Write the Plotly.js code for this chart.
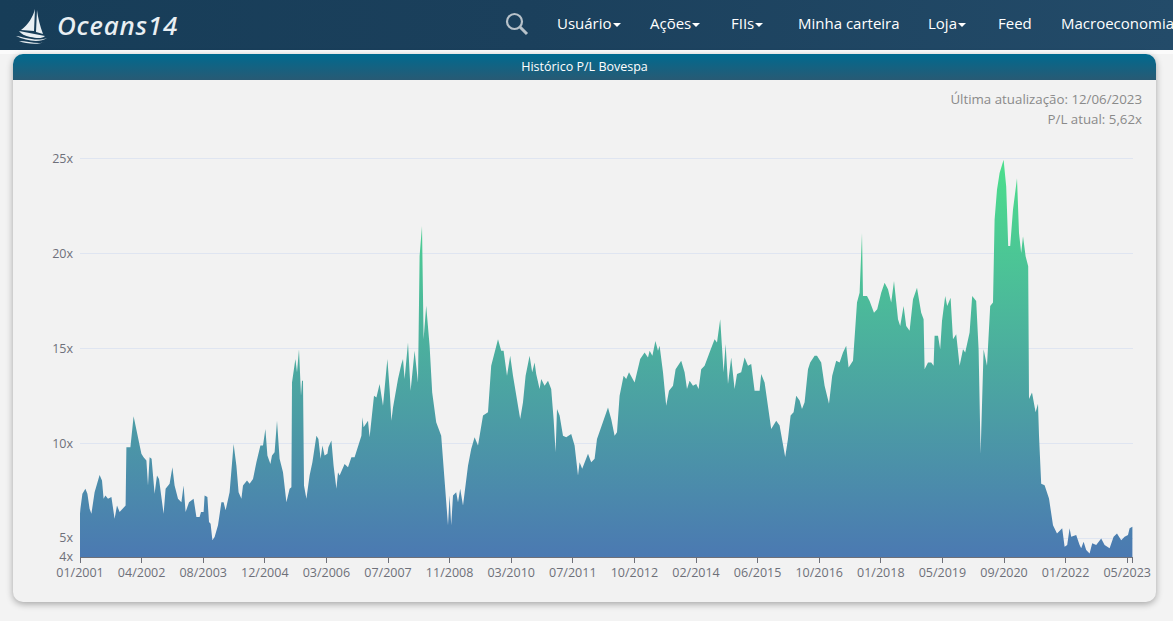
<!DOCTYPE html>
<html lang="pt-BR">
<head>
<meta charset="utf-8">
<title>Histórico P/L Bovespa</title>
<script src="https://cdn.plot.ly/plotly-3.0.1.min.js"></script>
<style>
html,body{margin:0;padding:0;width:1173px;height:621px;overflow:hidden;background:#f3f3f3;font-family:"Open Sans",sans-serif}
#nav{position:absolute;left:0;top:0;width:1173px;height:50px;background:linear-gradient(90deg,#173d58,#1b405c 45%,#234b69)}
#strip{position:absolute;left:0;top:50px;width:1173px;height:4px;background:#fbfbfb}
.item{position:absolute;top:13px;color:#fff;font-size:15px;line-height:20px;white-space:nowrap}
.item i{display:inline-block;width:0;height:0;margin-left:1px;vertical-align:2px;border-left:4px solid transparent;border-right:4px solid transparent;border-top:4px solid #fff}
#brand{position:absolute;left:57px;top:6px;color:#e9eff3;font:italic 500 26px/38px "Noto Sans",sans-serif;letter-spacing:.8px}
#card{position:absolute;left:13px;top:54px;width:1143px;height:548px;background:#f2f2f2;border-radius:10px 10px 10px 10px;box-shadow:0 2px 7px rgba(0,0,0,.33)}
#cardhead{position:absolute;left:0;top:0;width:1143px;height:26px;border-radius:10px 10px 0 0;background:linear-gradient(180deg,#006a8f,#285a74);color:#fff;font-size:12.5px;line-height:25px;text-align:center}
#info{position:absolute;right:14px;top:35px;text-align:right;color:#8a8a8a;font-size:13.3px;line-height:20px}
#chart{position:absolute;left:0;top:0;width:1173px;height:621px}
</style>
</head>
<body>
<div id="nav">
  <svg style="position:absolute;left:14px;top:7px" width="34" height="38" viewBox="0 0 34 38">
    <path d="M21 2 C19 10 14 18 7 23 L20 24 Z" fill="#e9eff3"/>
    <path d="M23 3 C24 11 26 19 29 27 L22 25 Z" fill="#e9eff3"/>
    <path d="M5 24 L31 29 C28 32 22 31 16 30 C11 29 7 27 5 24 Z" fill="#e9eff3"/>
    <path d="M2 29 C10 30 22 35 33 31 C26 36 12 34 2 29 Z M5 34 C14 34 24 38 31 35 C24 38 12 37 5 34 Z" fill="#e9eff3"/>
  </svg>
  <div id="brand">Oceans14</div>
  <svg style="position:absolute;left:505px;top:12px" width="24" height="24" viewBox="0 0 24 24" fill="none" stroke="#b8c2ca">
    <circle cx="9.5" cy="9.5" r="7.5" stroke-width="2.2"/><path d="M15 15 L22 22" stroke-width="3"/>
  </svg>
  <div class="item" style="left:557px">Usuário<i></i></div>
  <div class="item" style="left:650px">Ações<i></i></div>
  <div class="item" style="left:731px">FIIs<i></i></div>
  <div class="item" style="left:798px">Minha carteira</div>
  <div class="item" style="left:928px">Loja<i></i></div>
  <div class="item" style="left:998px">Feed</div>
  <div class="item" style="left:1061px">Macroeconomia</div>
</div>
<div id="strip"></div>
<div id="card">
  <div id="cardhead">Histórico P/L Bovespa</div>
  <div id="info">Última atualização: 12/06/2023<br>P/L atual: 5,62x</div>
</div>
<div id="chart"></div>
<script>
// Position along the category axis, in trading sessions since 01/2001
const sessions = [
0,2,12,27,37,48,57,73,98,110,118,127,140,157,173,185,198,212,228,232,252,268,282,298,307,318,332,340,348,358,373,385,395,418,428,448,462,473,490,507,518,528,545,568,582,598,605,618,623,637,645,653,662,673,690,707,718,728,748,768,782,793,807,815,835,848,865,882,902,915,927,937,952,960,973,985,998,1015,1032,1048,1057,1060,1077,1085,1095,1105,1110,1115,1120,1132,1148,1162,1182,1192,1203,1212,1223,1237,1242,1257,1268,1282,1290,1298,1323,1340,1357,1373,1407,1412,1418,1440,1448,1470,1482,1498,1515,1532,1537,1548,1557,1565,1590,1607,
1615,1623,1640,1653,1673,1690,1698,1710,1718,1731,1748,1761,1781,1806,1823,1840,1848,1856,1865,1881,1890,1901,1915,1931,1940,1956,1973,1990,2015,2040,2056,2090,2106,2118,2135,2151,2165,2201,2215,2228,2248,2261,2273,2281,2298,2306,2323,2340,2356,2368,2378,2385,2398,2415,2431,2456,2473,2490,2498,2511,2540,2556,2573,2585,2615,2640,2656,2673,2685,2698,2718,2731,2745,2773,2801,2823,2840,2848,2862,2877,2890,2898,2915,2931,2945,2965,2978,3006,3023,3035,3048,3065,3081,3093,3106,3123,3151,3173,3185,3201,3218,3228,3240,3256,3273,3285,3306,3323,3340,3356,3373,3398,3406,3423,3456,3481,
3498,3511,3526,3540,3553,3568,3581,3598,3610,3623,3640,3651,3673,3685,3706,3723,3745,3761,3781,3798,3815,3831,3843,3865,3885,3898,3910,3915,3935,3948,3970,3986,4006,4023,4040,4056,4070,4090,4101,4118,4131,4148,4165,4185,4206,4218,4223,4240,4256,4268,4273,4290,4301,4310,4326,4336,4353,4365,4381,4398,4415,4426,4448,4461,4481,4493,4503,4518,4535,4551,4565,4573,4585,4598,4618,4631,4641,4651,4665,4685,4695,4706,4715,4728,4741,4745,4760,4778,4790,4795,4806,4823,4845,4865,4885,4911,4923,4936,4948,4956,4981,4998,5006,5018,5031,5048,5061,5081,5106,5123,5140,5148,5168,5185,5206,5223,5240,5248,5262
];
// P/L Bovespa at each of those positions
const peRatio = [
6.28,6.54,7.33,7.60,7.33,6.54,6.28,7.42,8.33,8.04,7.07,7.25,7.07,7.16,6.02,6.72,6.37,6.54,6.72,9.79,9.79,11.42,10.67,9.88,9.44,9.26,9.09,7.77,9.26,9.18,7.33,8.30,8.12,6.28,7.60,7.86,8.74,7.77,7.07,6.89,7.77,6.37,6.89,7.07,6.11,6.11,6.37,6.37,7.25,7.16,5.84,5.75,4.88,5.05,5.67,6.89,6.89,6.46,7.42,9.96,8.82,7.42,7.07,7.77,8.04,7.86,8.12,9.00,9.88,9.88,10.75,9.35,8.91,9.35,9.53,11.19,9.18,8.47,6.89,7.60,7.68,13.21,14.44,13.74,14.96,12.51,13.30,13.30,7.77,7.07,8.30,9.00,10.40,10.23,9.18,9.88,9.35,9.44,9.79,10.14,8.82,7.60,8.47,8.30,8.91,8.74,9.26,9.26,10.40,11.37,10.84,11.19,10.32,12.51,12.42,13.12,11.98,13.91,14.44,12.86,11.19,11.89,13.39,14.18,
14.44,13.39,15.32,12.77,14.88,13.21,19.88,21.46,15.49,17.25,15.14,12.68,11.11,10.40,7.95,5.67,7.25,5.67,7.25,7.42,6.89,7.60,6.72,7.95,8.82,9.70,10.32,9.88,11.46,11.63,14.09,15.49,14.88,14.88,13.56,14.61,13.56,11.28,12.16,13.56,14.61,13.74,14.26,13.65,12.86,13.39,13.04,13.30,12.86,11.28,9.53,11.81,11.46,10.40,10.32,10.49,9.88,8.30,9.00,8.65,9.44,9.00,9.18,10.23,11.11,11.89,11.28,10.40,10.58,12.51,13.56,13.39,13.74,13.21,14.44,14.79,14.53,14.88,14.61,15.40,14.88,15.14,13.74,11.98,12.77,13.04,13.91,14.35,13.74,12.86,13.30,13.04,13.12,12.86,13.91,14.09,14.88,15.49,15.32,16.54,13.74,15.23,13.12,14.53,12.86,13.65,13.74,14.53,14.09,14.18,12.77,12.77,13.65,13.21,10.75,11.19,
10.94,10.06,9.27,10.24,11.46,11.64,12.51,12.25,11.81,12.16,13.91,14.26,14.61,14.61,14.26,13.04,12.08,13.56,14.35,14.26,14.79,15.14,14.00,14.35,17.42,17.94,21.09,17.77,17.77,17.50,16.89,17.07,17.94,18.47,18.12,17.42,18.56,16.54,16.19,17.24,16.19,15.93,17.59,18.20,16.89,16.54,13.91,14.26,14.26,14.09,15.67,15.67,14.96,16.45,17.77,17.24,17.68,15.49,15.75,14.09,14.96,14.79,15.84,17.77,17.50,14.96,9.45,14.96,14.09,17.24,17.42,21.80,23.37,24.25,24.95,23.55,20.40,20.40,22.33,23.98,21.09,20.04,20.92,19.87,19.34,12.33,12.68,11.64,12.08,10.41,7.87,7.78,7.08,5.68,5.24,5.51,4.54,4.63,5.51,5.07,5.16,4.63,4.46,4.81,4.37,4.19,4.72,4.63,4.98,4.63,4.54,4.46,5.07,5.24,4.89,5.07,5.16,5.51,5.60
];
const monthTickPositions = [0,308,616,924,1232,1540,1848,2156,2464,2772,3080,3388,3696,4004,4312,4620,4928,5236,5262];
const monthTickLabels = ["01/2001","04/2002","08/2003","12/2004","03/2006","07/2007","11/2008","03/2010","07/2011","10/2012","02/2014","06/2015","10/2016","01/2018","05/2019","09/2020","01/2022","05/2023",""];
const yTickValues = [4,5,10,15,20,25];
const yTickLabels = ["4x","5x","10x","15x","20x","25x"];

const grey = "#6e7079";
Plotly.newPlot("chart", [{
  type: "scatter",
  mode: "lines",
  x: sessions,
  y: peRatio,
  line: {width: 0, color: "rgba(0,0,0,0)", shape: "linear"},
  fill: "tozeroy",
  fillgradient: {
    type: "vertical",
    start: 4,
    stop: 25,
    colorscale: [[0, "rgba(68,116,175,0.96)"], [1, "rgba(69,222,136,0.96)"]]
  },
  hoverinfo: "skip"
}], {
  width: 1173,
  height: 621,
  autosize: false,
  showlegend: false,
  paper_bgcolor: "rgba(0,0,0,0)",
  plot_bgcolor: "rgba(0,0,0,0)",
  margin: {l: 80, r: 40, t: 156.6, b: 63.5, pad: 0},
  font: {family: '"Open Sans", sans-serif', size: 12.5, color: grey},
  xaxis: {
    type: "linear",
    range: [0, 5265],
    tickmode: "array",
    tickvals: monthTickPositions,
    ticktext: monthTickLabels,
    ticks: "outside",
    ticklen: 5,
    tickcolor: grey,
    tickfont: {size: 12.5, color: grey},
    ticklabelstandoff: -1,
    showgrid: false,
    zeroline: false,
    showline: true,
    linecolor: grey,
    linewidth: 1
  },
  yaxis: {
    type: "linear",
    range: [4, 25.1],
    tickmode: "array",
    tickvals: yTickValues,
    ticktext: yTickLabels,
    ticks: "",
    tickfont: {size: 12.5, color: grey},
    ticklabelstandoff: 6,
    showgrid: true,
    gridcolor: "#dfe5f1",
    gridwidth: 1,
    zeroline: false,
    showline: false
  }
}, {staticPlot: true, displayModeBar: false});
</script>
</body>
</html>
